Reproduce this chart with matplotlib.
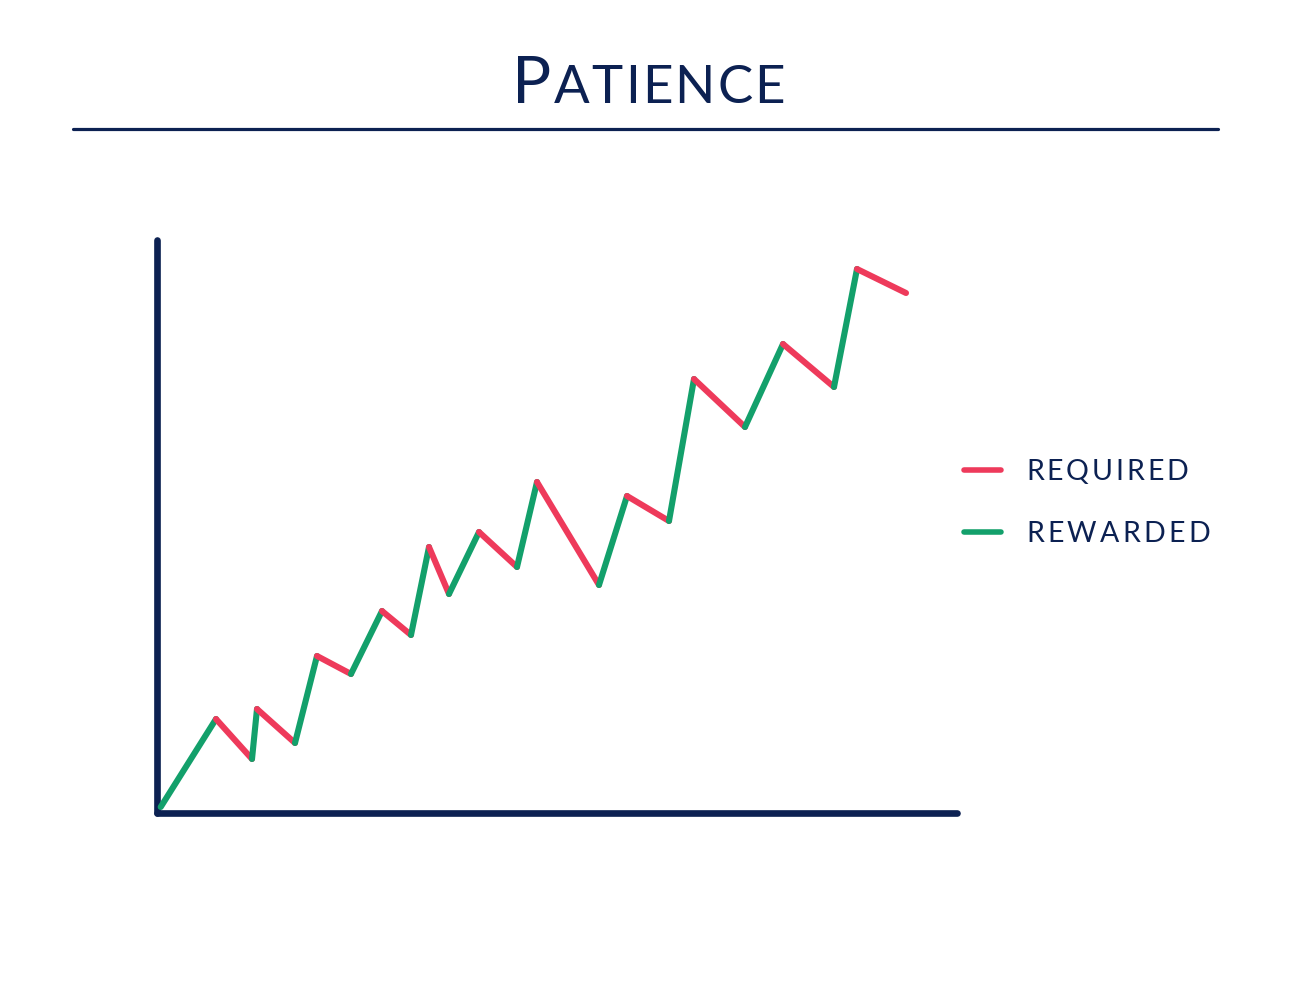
import matplotlib
matplotlib.use("Agg")
import matplotlib.pyplot as plt
from matplotlib.lines import Line2D

# ---- data ----
x_vals = [3.7, 59, 95, 100, 138, 160, 194, 225, 254, 272, 292, 322, 360,
          380, 442, 470, 512, 537, 588, 626, 677, 700, 749]
y_vals = [6, 94, 54, 104, 70, 157, 139, 202, 178, 266, 219, 281, 246,
          331, 228, 317, 292, 434, 386, 469, 426, 544, 520]
legend_labels = ["REQUIRED", "REWARDED"]
title_text = "Patience"

NAVY = "#0C2152"
RED = "#EE3A5B"
GREEN = "#13A06B"

W, H = 1292, 998
fig = plt.figure(figsize=(W / 100, H / 100), dpi=100)
fig.patch.set_facecolor("white")

# chart axes: origin at pixel (157, 813), top-right at (957, 240)
ax = fig.add_axes([157 / W, (H - 813) / H, 800 / W, 573 / H])
ax.set_xlim(0, 800)
ax.set_ylim(0, 573)
ax.axis("off")

# axis lines
ax.plot([0, 0], [0, 573], color=NAVY, lw=4.8, solid_capstyle="round", clip_on=False, zorder=1)
ax.plot([0, 800], [0, 0], color=NAVY, lw=4.8, solid_capstyle="round", clip_on=False, zorder=1)

# zigzag segments: down = required (red), up = rewarded (green)
for i in range(len(x_vals) - 1):
    up = y_vals[i + 1] >= y_vals[i]
    ax.plot(x_vals[i:i + 2], y_vals[i:i + 2], color=GREEN if up else RED,
            lw=4.4, solid_capstyle="round", clip_on=False, zorder=2 + i)

renderer = fig.canvas.get_renderer()
FONT = "Lato"


def tracked(parts, x0, x1, y_base, color=NAVY):
    """parts: list of (char, fontsize). Spread glyphs between x0 and x1 (pixels)."""
    texts = []
    widths = []
    for ch, fs in parts:
        t = fig.text(0, 1 - y_base / H, ch, fontsize=fs, family=FONT, color=color,
                     va="baseline", ha="left")
        widths.append(t.get_window_extent(renderer).width)
        texts.append(t)
    n = len(parts)
    track = (x1 - x0 - sum(widths)) / max(n - 1, 1)
    x = x0
    for t, w in zip(texts, widths):
        t.set_x(x / W)
        x += w + track


# title in small caps
t_parts = [(title_text[0].upper(), 47)] + [(c.upper(), 38) for c in title_text[1:]]
tracked(t_parts, 512, 785, 103)

# rule under the title
fig.add_artist(Line2D([73 / W, 1218 / W], [1 - 129 / H, 1 - 129 / H], color=NAVY,
                      lw=2.3, solid_capstyle="round"))

# legend
leg_y = [470, 532]
leg_end = [1188, 1210]
for lab, col, yy, xe in zip(legend_labels, [RED, GREEN], leg_y, leg_end):
    fig.add_artist(Line2D([964 / W, 1001 / W], [1 - yy / H, 1 - yy / H], color=col,
                          lw=4.0, solid_capstyle="round"))
    tracked([(c, 20.5) for c in lab], 1026, xe, yy + 9.5)

fig.savefig("out.png", dpi=100, facecolor="white")
